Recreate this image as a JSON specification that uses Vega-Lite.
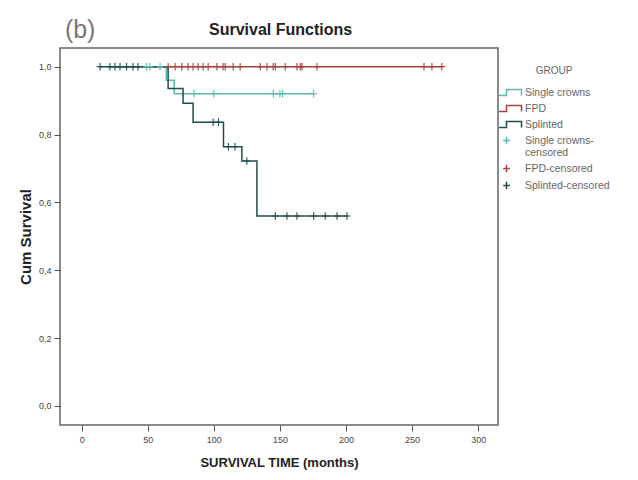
{
  "$schema": "https://vega.github.io/schema/vega-lite/v6.json",
  "autosize": {"type": "none"},
  "padding": {"left": 60, "top": 48, "right": 140, "bottom": 55},
  "width": 438,
  "height": 377,
  "background": "white",
  "datasets": {
    "lines": [
      {"group": "FPD", "t": 25, "s": 1},
      {"group": "FPD", "t": 272.5, "s": 1},
      {"group": "Single crowns", "t": 20, "s": 1},
      {"group": "Single crowns", "t": 64, "s": 0.96},
      {"group": "Single crowns", "t": 70, "s": 0.92},
      {"group": "Single crowns", "t": 175.5, "s": 0.92},
      {"group": "Splinted", "t": 13.9, "s": 1},
      {"group": "Splinted", "t": 65.4, "s": 0.936},
      {"group": "Splinted", "t": 76.7, "s": 0.892},
      {"group": "Splinted", "t": 84.3, "s": 0.836},
      {"group": "Splinted", "t": 107.3, "s": 0.764},
      {"group": "Splinted", "t": 121.2, "s": 0.722},
      {"group": "Splinted", "t": 132.6, "s": 0.56},
      {"group": "Splinted", "t": 200.8, "s": 0.56}
    ],
    "censored": [
      {"censor": "Splinted-censored", "t": 13.9, "s": 1},
      {"censor": "Splinted-censored", "t": 21.4, "s": 1},
      {"censor": "Splinted-censored", "t": 25.2, "s": 1},
      {"censor": "Splinted-censored", "t": 29, "s": 1},
      {"censor": "Splinted-censored", "t": 34, "s": 1},
      {"censor": "Splinted-censored", "t": 38.8, "s": 1},
      {"censor": "Splinted-censored", "t": 42.6, "s": 1},
      {"censor": "Splinted-censored", "t": 99.5, "s": 0.836},
      {"censor": "Splinted-censored", "t": 103.5, "s": 0.836},
      {"censor": "Splinted-censored", "t": 111, "s": 0.764},
      {"censor": "Splinted-censored", "t": 116, "s": 0.764},
      {"censor": "Splinted-censored", "t": 125, "s": 0.722},
      {"censor": "Splinted-censored", "t": 146.5, "s": 0.56},
      {"censor": "Splinted-censored", "t": 155.3, "s": 0.56},
      {"censor": "Splinted-censored", "t": 162.9, "s": 0.56},
      {"censor": "Splinted-censored", "t": 175.5, "s": 0.56},
      {"censor": "Splinted-censored", "t": 184.3, "s": 0.56},
      {"censor": "Splinted-censored", "t": 193.2, "s": 0.56},
      {"censor": "Splinted-censored", "t": 200.8, "s": 0.56},
      {"censor": "Single crowns-censored", "t": 49.2, "s": 1},
      {"censor": "Single crowns-censored", "t": 51.7, "s": 1},
      {"censor": "Single crowns-censored", "t": 59.3, "s": 1},
      {"censor": "Single crowns-censored", "t": 85, "s": 0.92},
      {"censor": "Single crowns-censored", "t": 100, "s": 0.92},
      {"censor": "Single crowns-censored", "t": 145, "s": 0.92},
      {"censor": "Single crowns-censored", "t": 150, "s": 0.92},
      {"censor": "Single crowns-censored", "t": 152, "s": 0.92},
      {"censor": "Single crowns-censored", "t": 175.5, "s": 0.92},
      {"censor": "FPD-censored", "t": 65.4, "s": 1},
      {"censor": "FPD-censored", "t": 70.7, "s": 1},
      {"censor": "FPD-censored", "t": 75.8, "s": 1},
      {"censor": "FPD-censored", "t": 80.5, "s": 1},
      {"censor": "FPD-censored", "t": 84.3, "s": 1},
      {"censor": "FPD-censored", "t": 88.1, "s": 1},
      {"censor": "FPD-censored", "t": 91.9, "s": 1},
      {"censor": "FPD-censored", "t": 95.7, "s": 1},
      {"censor": "FPD-censored", "t": 102.3, "s": 1},
      {"censor": "FPD-censored", "t": 107, "s": 1},
      {"censor": "FPD-censored", "t": 108.6, "s": 1},
      {"censor": "FPD-censored", "t": 114.6, "s": 1},
      {"censor": "FPD-censored", "t": 119.9, "s": 1},
      {"censor": "FPD-censored", "t": 135.1, "s": 1},
      {"censor": "FPD-censored", "t": 140.2, "s": 1},
      {"censor": "FPD-censored", "t": 144.9, "s": 1},
      {"censor": "FPD-censored", "t": 146.5, "s": 1},
      {"censor": "FPD-censored", "t": 154, "s": 1},
      {"censor": "FPD-censored", "t": 162.9, "s": 1},
      {"censor": "FPD-censored", "t": 165.4, "s": 1},
      {"censor": "FPD-censored", "t": 166.7, "s": 1},
      {"censor": "FPD-censored", "t": 178, "s": 1},
      {"censor": "FPD-censored", "t": 259, "s": 1},
      {"censor": "FPD-censored", "t": 265, "s": 1},
      {"censor": "FPD-censored", "t": 272.5, "s": 1}
    ],
    "labels": [
      {"label": "(b)", "kind": "panel"},
      {"label": "Survival Functions", "kind": "title"}
    ]
  },
  "layer": [
    {
      "data": {"name": "lines"},
      "mark": {"type": "line", "interpolate": "step-after", "strokeWidth": 1.5},
      "encoding": {
        "x": {"field": "t", "type": "quantitative", "scale": {"domain": [-16.4, 315], "nice": false, "zero": false},
          "axis": {"values": [0, 50, 100, 150, 200, 250, 300], "title": "SURVIVAL TIME (months)"}},
        "y": {"field": "s", "type": "quantitative", "scale": {"domain": [-0.056, 1.055], "nice": false, "zero": false},
          "axis": {"values": [0, 0.2, 0.4, 0.6, 0.8, 1.0], "labelExpr": "replace(format(datum.value, '.1f'), '.', ',')", "title": "Cum Survival"}},
        "color": {"field": "group", "type": "nominal",
          "scale": {"domain": ["Single crowns", "FPD", "Splinted"], "range": ["#5cb8b0", "#a8403f", "#1f4f4f"]},
          "legend": null
        },
        "order": {"field": "t", "type": "quantitative"}
      }
    },
    {
      "data": {"name": "censored"},
      "mark": {"type": "point", "filled": false, "strokeWidth": 1.1, "size": 225, "opacity": 1},
      "encoding": {
        "x": {"field": "t", "type": "quantitative"},
        "y": {"field": "s", "type": "quantitative"},
        "shape": {"field": "censor", "type": "nominal",
          "scale": {"domain": ["Single crowns", "FPD", "Splinted", "Single crowns-censored", "FPD-censored", "Splinted-censored"],
            "range": ["M-1,0.4H0V-0.4H2V0.4", "M-1,0.4H0V-0.4H2V0.4", "M-1,0.4H0V-0.4H2V0.4", "M-0.45,0H0.45M0,-0.5V0.5", "M-0.45,0H0.45M0,-0.5V0.5", "M-0.45,0H0.45M0,-0.5V0.5"]},
          "legend": {"title": "GROUP", "labelExpr": "datum.label == 'Single crowns-censored' ? ['Single crowns-', 'censored'] : datum.label"}},
        "stroke": {"field": "censor", "type": "nominal",
          "scale": {"domain": ["Single crowns", "FPD", "Splinted", "Single crowns-censored", "FPD-censored", "Splinted-censored"],
            "range": ["#5cb8b0", "#a8403f", "#1f4f4f", "#5cb8b0", "#a8403f", "#1f4f4f"]},
          "legend": {"title": "GROUP", "labelExpr": "datum.label == 'Single crowns-censored' ? ['Single crowns-', 'censored'] : datum.label"}}
      }
    },
    {
      "data": {"name": "labels"},
      "transform": [{"filter": "datum.kind == 'panel'"}],
      "mark": {"type": "text", "align": "left", "baseline": "middle", "fontSize": 25, "font": "Liberation Sans", "color": "#777"},
      "encoding": {
        "x": {"datum": -12.7},
        "y": {"datum": 1.108},
        "text": {"field": "label", "type": "nominal"}
      }
    },
    {
      "data": {"name": "labels"},
      "transform": [{"filter": "datum.kind == 'title'"}],
      "mark": {"type": "text", "align": "center", "baseline": "middle", "fontSize": 16, "fontWeight": "bold", "font": "Liberation Sans", "color": "#222"},
      "encoding": {
        "x": {"datum": 150.5},
        "y": {"datum": 1.108},
        "text": {"field": "label", "type": "nominal"}
      }
    }
  ],
  "config": {
    "font": "Liberation Sans",
    "view": {"stroke": "#666", "strokeWidth": 1.5},
    "axis": {"domain": false, "grid": false, "tickSize": 6, "tickColor": "#555", "labelFontSize": 9, "labelColor": "#444",
      "titleFontWeight": "bold", "titleColor": "#222", "labelFont": "Liberation Sans", "titleFont": "Liberation Sans"},
    "axisX": {"labelPadding": 4, "titlePadding": 12, "titleFontSize": 13},
    "axisY": {"labelPadding": 3, "titlePadding": 5, "titleFontSize": 15},
    "legend": {"orient": "right", "offset": -18, "padding": 18, "symbolSize": 225, "symbolStrokeWidth": 1.5, "symbolFillColor": "transparent",
      "labelOffset": 10, "rowPadding": 1, "titlePadding": 8, "titleAnchor": "middle",
      "labelFontSize": 10.5, "labelColor": "#666", "titleFontSize": 10, "titleFontWeight": "normal", "titleColor": "#666", "labelFont": "Liberation Sans", "titleFont": "Liberation Sans"}
  }
}
